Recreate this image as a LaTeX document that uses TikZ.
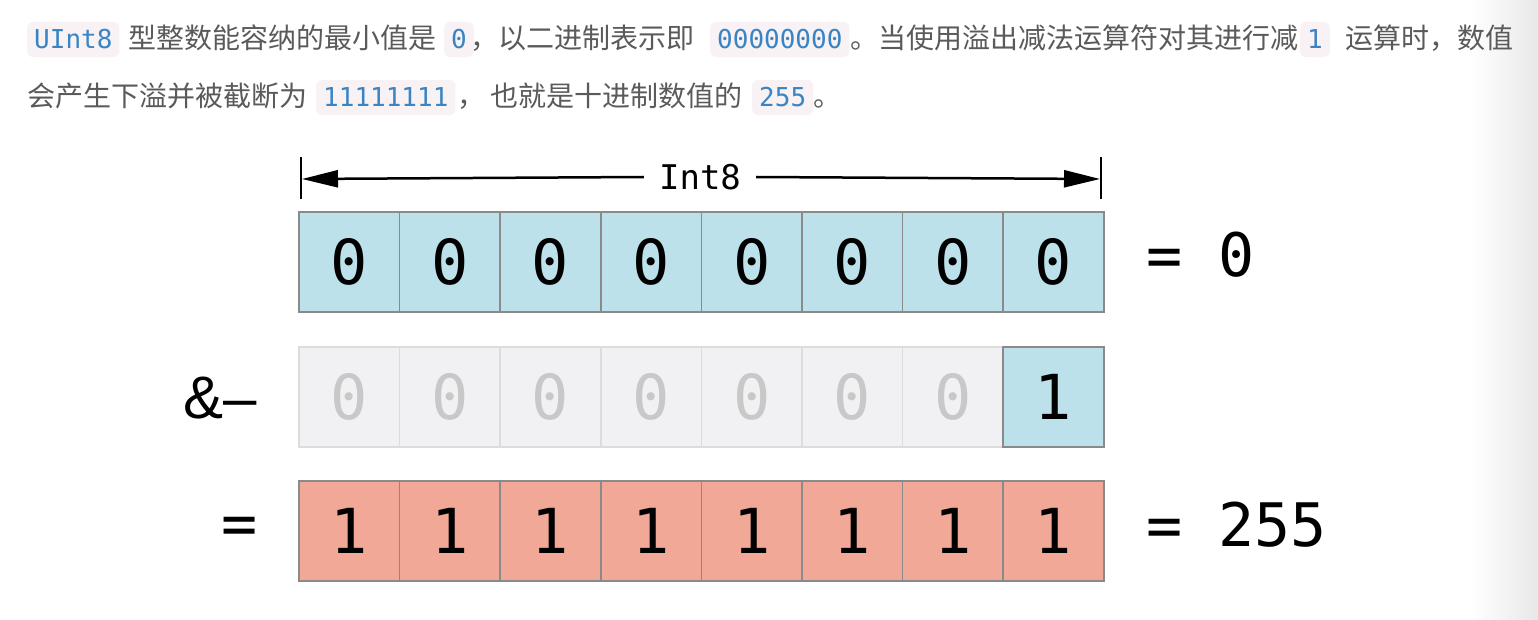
\documentclass[tikz,border=0pt]{standalone}
\usepackage{fontspec}
\usepackage{xcolor}
\usepackage{tikz}
\usetikzlibrary{arrows.meta}
\newfontfamily\cjk{Noto Sans CJK SC}
\newfontfamily\codefont{DejaVu Sans Mono}
\newfontfamily\opfont{Liberation Sans}
\definecolor{bitBlue}{HTML}{BDE1EB}
\definecolor{bitRed}{HTML}{F1A896}
\definecolor{bitGray}{HTML}{F1F1F3}
\definecolor{cellEdge}{HTML}{8A8A8A}
\definecolor{fadeEdge}{HTML}{DCDCDC}
\definecolor{fadeText}{HTML}{C8C8C8}
\definecolor{chipFill}{HTML}{F8F2F5}
\definecolor{chipText}{HTML}{3A84C4}
\definecolor{bodyText}{HTML}{5A5A5A}

\tikzset{
    chip/.style={fill=chipFill, rounded corners=6pt, inner xsep=7pt, inner ysep=0pt,
        minimum height=35pt, anchor=base west, text=chipText,
        font=\codefont\fontsize{26}{26}\selectfont},
    para/.style={inner sep=0pt, anchor=base west, text=bodyText,
        font=\cjk\fontsize{28}{28}\selectfont},
    cell/.style={draw=cellEdge, line width=1.5pt, minimum width=100.6pt, minimum height=100pt,
        inner sep=0pt, font=\codefont\fontsize{62}{62}\selectfont},
    sideLabel/.style={inner sep=0pt, font=\codefont\fontsize{60}{60}\selectfont},
    dimArrow/.style={line width=2.5pt, -{Triangle[length=36pt,width=17pt]}}
}

\begin{document}
\begin{tikzpicture}[x=1pt, y=-1pt]
    \useasboundingbox (0,0) rectangle (1538,620);
    \fill[white] (0,0) rectangle (1538,620);
    \shade[left color=white, right color=black!9] (1470,0) rectangle (1538,620);

    \node[chip] (u1) at (27,49) {UInt8};
    \node[para] (t1) at (128,49) {型整数能容纳的最小值是};
    \node[chip] (u2) at (444,49) {0};
    \node[para] (t2) at (470,49) {，以二进制表示即};
    \node[chip] (u3) at (710,49) {00000000};
    \node[para] (t3) at (850,49) {。当使用溢出减法运算符对其进行减};
    \node[chip] (u4) at (1300,49) {1};
    \node[para] (t4) at (1345,49) {运算时，数值};

    \node[para] (t5) at (27,107) {会产生下溢并被截断为};
    \node[chip] (u5) at (316,107) {11111111};
    \node[para] (t6) at (457,107) {，};
    \node[para] (t7) at (490,107) {也就是十进制数值的};
    \node[chip] (u6) at (752,107) {255};
    \node[para] (t8) at (813,107) {。};

    \coordinate (lTop) at (301,157);
    \coordinate (lBot) at (301,199);
    \coordinate (rTop) at (1101,157);
    \coordinate (rBot) at (1101,199);
    \coordinate (lEnd) at (302,179);
    \coordinate (rEnd) at (1100,179);
    \draw[line width=2pt] (lTop) -- (lBot);
    \draw[line width=2pt] (rTop) -- (rBot);
    \node[inner xsep=15pt, inner ysep=0pt, font=\codefont\fontsize{34}{34}\selectfont] (width) at (700,177) {Int8};
    \draw[dimArrow] (width.west) -- (lEnd);
    \draw[dimArrow] (width.east) -- (rEnd);

    \foreach \i in {1,...,8}
        \node[cell, fill=bitBlue] (a\i) at ({349.3+(\i-1)*100.6},262) {0};
    \foreach \i in {1,...,7}
        \node[cell, fill=bitGray, draw=fadeEdge, text=fadeText] (b\i) at ({349.3+(\i-1)*100.6},397) {0};
    \node[cell, fill=bitBlue] (b8) at ({349.3+7*100.6},397) {1};
    \foreach \i in {1,...,8}
        \node[cell, fill=bitRed] (c\i) at ({349.3+(\i-1)*100.6},531) {1};

    \node[sideLabel, anchor=west] (valA) at (1146,255) {= 0};
    \node[inner sep=0pt, anchor=base east, font=\opfont\fontsize{60}{60}\selectfont] (opB) at (257,418) {\&–};
    \node[sideLabel, anchor=east] (opC) at (258,531) {=};
    \node[sideLabel, anchor=west] (valC) at (1146,525) {= 255};
\end{tikzpicture}
\end{document}
